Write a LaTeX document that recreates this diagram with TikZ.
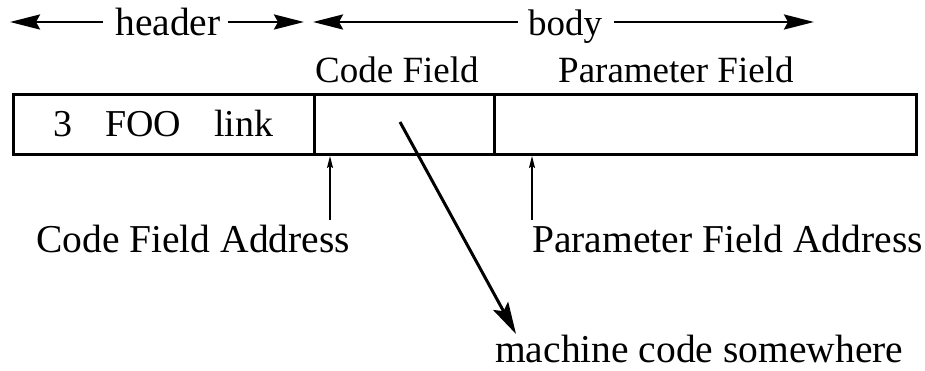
\documentclass[tikz,border=0pt]{standalone}
\usepackage{fontspec}
\setmainfont{Liberation Serif}
\usetikzlibrary{arrows.meta}
\begin{document}
\begin{tikzpicture}[x=1pt,y=-1pt,
  lbl/.style={font=\fontsize{37}{40}\selectfont, inner sep=0pt, anchor=base west},
  biglbl/.style={lbl, font=\fontsize{39.5}{42}\selectfont},
  cell/.style={draw, line width=3pt, anchor=north west, inner sep=0pt},
  span/.style={line width=2.6pt, -{Stealth[length=30pt,width=15pt,inset=4pt]}},
  ptr/.style={line width=1.6pt, -{Stealth[length=12pt,width=6pt,inset=2pt]}},
  bigptr/.style={line width=3pt, -{Stealth[length=32pt,width=17pt,inset=6pt]}}]
  \useasboundingbox (0,0) rectangle (925,371);

  % the three cells of the dictionary entry
  \node[cell, minimum width=301pt, minimum height=60pt] (hdr) at (12,93) {};
  \node[cell, minimum width=180pt, minimum height=60pt] (cf) at (313,93) {};
  \node[cell, minimum width=422pt, minimum height=60pt] (pf) at (493,93) {};

  % header cell contents
  \node[lbl, font=\fontsize{38}{40}\selectfont] (n3) at (53,137) {3};
  \node[lbl, font=\fontsize{38}{40}\selectfont] (foo) at (105,137) {FOO};
  \node[lbl, font=\fontsize{38}{40}\selectfont] (lnk) at (214,137) {link};

  % span labels
  \node[biglbl, anchor=base] (header) at (168,36) {header};
  \node[lbl, anchor=base] (body) at (565,36) {body};
  \coordinate (hL) at (10,22);
  \coordinate (hR) at (304,22);
  \coordinate (bL) at (313,22);
  \coordinate (bR) at (814,22);
  \draw[span] (header.west |- hL) ++(-12,0) coordinate (hA) (hA) -- (hL);
  \draw[span] (header.east |- hR) ++(7,0) coordinate (hB) (hB) -- (hR);
  \draw[span] (body.west |- bL) ++(-10,0) coordinate (bA) (bA) -- (bL);
  \draw[span] (body.east |- bR) ++(12,0) coordinate (bB) (bB) -- (bR);

  % field names
  \node[lbl] (cfname) at (315,83) {Code Field};
  \node[lbl] (pfname) at (558,83) {Parameter Field};

  % addresses
  \node[biglbl] (cfa) at (36,252) {Code Field Address};
  \node[biglbl] (pfa) at (532,252) {Parameter Field Address};
  \coordinate (cfaT) at (330,156);
  \coordinate (cfaB) at (330,220);
  \coordinate (pfaT) at (532,156);
  \coordinate (pfaB) at (532,220);
  \draw[ptr] (cfaB) -- (cfaT);
  \draw[ptr] (pfaB) -- (pfaT);

  % pointer to machine code
  \node[biglbl] (mc) at (495,362) {machine code somewhere};
  \coordinate (cfptr) at (400,122);
  \coordinate (mctip) at (516,334);
  \draw[bigptr] (cfptr) -- (mctip);
\end{tikzpicture}
\end{document}
